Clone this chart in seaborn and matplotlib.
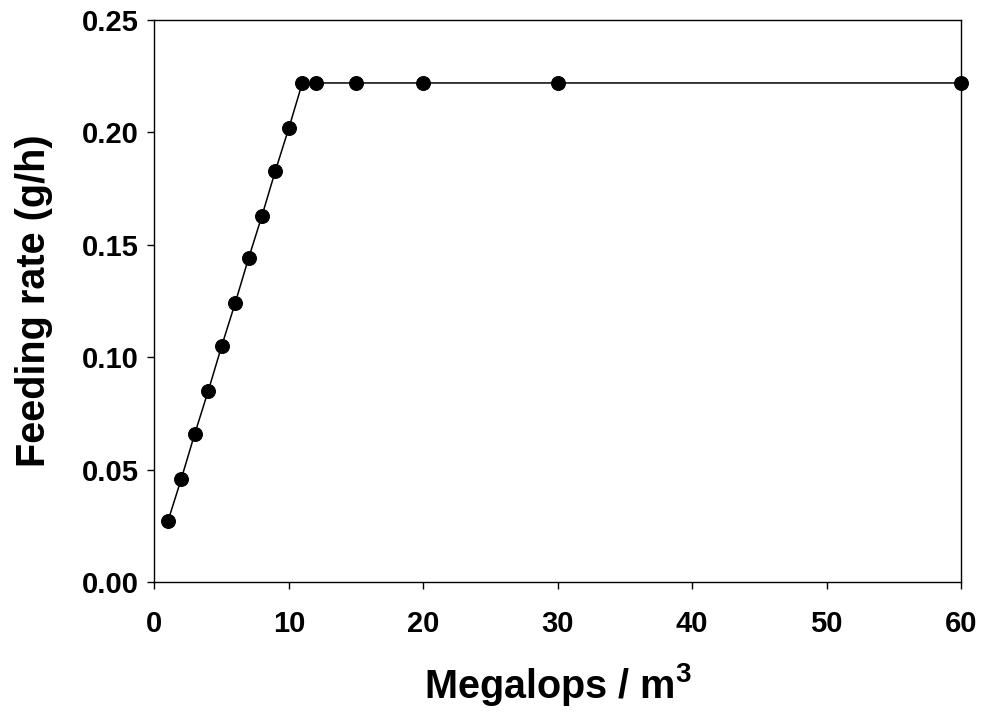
import numpy as np
import pandas as pd
import matplotlib
matplotlib.use('Agg')
import matplotlib.pyplot as plt
import seaborn as sns

# data
megalops = [1, 2, 3, 4, 5, 6, 7, 8, 9, 10, 11, 12, 15, 20, 30, 60]
feeding_rate = [0.027, 0.046, 0.066, 0.085, 0.105, 0.124, 0.144, 0.163,
                0.183, 0.202, 0.222, 0.222, 0.222, 0.222, 0.222, 0.222]
x_ticks = [0, 10, 20, 30, 40, 50, 60]
y_ticks = [0.00, 0.05, 0.10, 0.15, 0.20, 0.25]

df = pd.DataFrame({'megalops': megalops, 'rate': feeding_rate})

sns.set_style('ticks')
plt.rcParams['font.family'] = ['Liberation Sans', 'DejaVu Sans']
plt.rcParams['font.weight'] = 'bold'
plt.rcParams['text.color'] = 'black'
plt.rcParams['axes.labelcolor'] = 'black'
plt.rcParams['xtick.color'] = 'black'
plt.rcParams['ytick.color'] = 'black'
plt.rcParams['mathtext.fontset'] = 'custom'
plt.rcParams['mathtext.bf'] = 'Liberation Sans:bold'
plt.rcParams['mathtext.rm'] = 'Liberation Sans:bold'

fig = plt.figure(figsize=(9.82, 7.15), dpi=100)
ax = fig.add_axes([0.1573, 0.186, 0.8213, 0.786])

sns.lineplot(data=df, x='megalops', y='rate', ax=ax, color='black',
             linewidth=1.1, marker='o', markersize=10, markeredgecolor='black',
             markerfacecolor='black', clip_on=False, zorder=3)

ax.set_xlim(0, 60)
ax.set_ylim(0, 0.25)
ax.set_xticks(x_ticks)
ax.set_yticks(y_ticks)
ax.set_xticklabels([str(t) for t in x_ticks], fontsize=21, fontweight='bold')
ax.set_yticklabels([f'{t:.2f}' for t in y_ticks], fontsize=21, fontweight='bold')
ax.tick_params(direction='out', length=5, width=1, color='black')
ax.tick_params(axis='x', pad=15)
ax.tick_params(axis='y', pad=6)

for s in ax.spines.values():
    s.set_visible(True)
    s.set_color('black')
    s.set_linewidth(1)

ax.set_xlabel('Megalops / m$^\\mathbf{3}$', fontsize=28.5, fontweight='bold', labelpad=17)
ax.set_ylabel('Feeding rate (g/h)', fontsize=28.5, fontweight='bold', labelpad=21)

fig.savefig('out.png', dpi=100, facecolor='white')
